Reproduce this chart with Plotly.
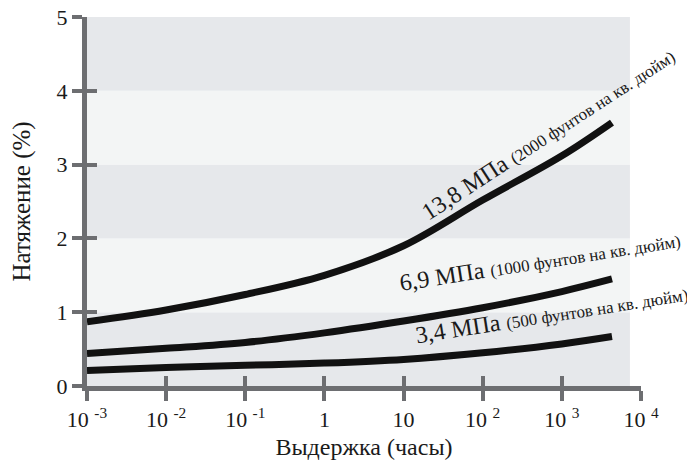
import plotly.graph_objects as go

# --- data ---
hours = [0.001, 0.01, 0.1, 1, 10, 100, 1000, 4300]
strain_13_8 = [0.87, 1.03, 1.24, 1.50, 1.90, 2.52, 3.12, 3.57]
strain_6_9 = [0.44, 0.51, 0.59, 0.72, 0.88, 1.06, 1.28, 1.45]
strain_3_4 = [0.21, 0.25, 0.28, 0.31, 0.36, 0.45, 0.57, 0.67]

x_tickvals = [0.001, 0.01, 0.1, 1, 10, 100, 1000, 10000]
x_ticktext = ["10 <sup>-3</sup>", "10 <sup>-2</sup>", "10 <sup>-1</sup>", "1", "10",
              "10 <sup>2</sup>", "10 <sup>3</sup>", "10 <sup>4</sup>"]
y_tickvals = [0, 1, 2, 3, 4, 5]

band_dark = "#e6e8eb"
band_light = "#f3f5f5"
axis_col = "#6d6e71"
ff = "Liberation Serif, Times New Roman, serif"

fig = go.Figure()

band_right = 10 ** 3.86
for i in range(5):
    fig.add_shape(type="rect", xref="x", yref="y", x0=0.001, x1=band_right,
                  y0=i, y1=i + 1, fillcolor=band_dark if i % 2 == 0 else band_light,
                  line_width=0, layer="below")

for vals in (strain_13_8, strain_6_9, strain_3_4):
    fig.add_trace(go.Scatter(x=hours, y=vals, mode="lines",
                             line=dict(color="#111111", width=7, shape="spline", smoothing=1.0),
                             showlegend=False, hoverinfo="skip"))

fig.add_trace(go.Scatter(x=[0.001], y=[0], xaxis="x2", yaxis="y2", mode="markers",
                         marker=dict(opacity=0), showlegend=False, hoverinfo="skip"))

annos = [
    ("13,8 МПа <span style='font-size:17px'>(2000 фунтов на кв. дюйм)</span>", 2.82, 3.42, -33),
    ("6,9 МПа <span style='font-size:17px'>(1000 фунтов на кв. дюйм)</span>", 2.72, 1.69, -9),
    ("3,4 МПа <span style='font-size:17px'>(500 фунтов на кв. дюйм)</span>", 2.87, 0.98, -9),
]
for text, ax_, ay_, ang in annos:
    fig.add_annotation(x=ax_, y=ay_, xref="x", yref="y", text=text, showarrow=False,
                       textangle=ang, font=dict(family=ff, size=24, color="#1a1a1a"))

common_axis = dict(showgrid=False, zeroline=False, showline=True, linecolor=axis_col,
                   linewidth=5, tickcolor=axis_col, tickwidth=4, ticklen=10, automargin=False)

fig.update_layout(
    width=687, height=452,
    margin=dict(l=79, r=54, t=9, b=74),
    paper_bgcolor="white", plot_bgcolor="white",
    font=dict(family=ff, size=22, color="#1a1a1a"),
    xaxis=dict(type="log", range=[-3, 4], tickvals=x_tickvals, ticktext=x_ticktext,
               ticks="outside", tickfont=dict(family=ff, size=22),
               title=dict(text="Выдержка (часы)", standoff=8,
                          font=dict(family=ff, size=24)),
               **common_axis),
    yaxis=dict(range=[0, 5], tickvals=y_tickvals, ticks="outside", ticklabeloverflow="allow",
               tickfont=dict(family=ff, size=22),
               title=dict(text="Натяжение (%)", standoff=21,
                          font=dict(family=ff, size=25)),
               **common_axis),
    xaxis2=dict(type="log", range=[-3, 4], tickvals=x_tickvals, overlaying="x",
                anchor="y2", side="bottom", ticks="inside", showticklabels=False,
                **common_axis),
    yaxis2=dict(range=[0, 5], tickvals=y_tickvals, overlaying="y", anchor="x2",
                side="left", ticks="inside", showticklabels=False, **common_axis),
)

fig.write_html("out.html")
